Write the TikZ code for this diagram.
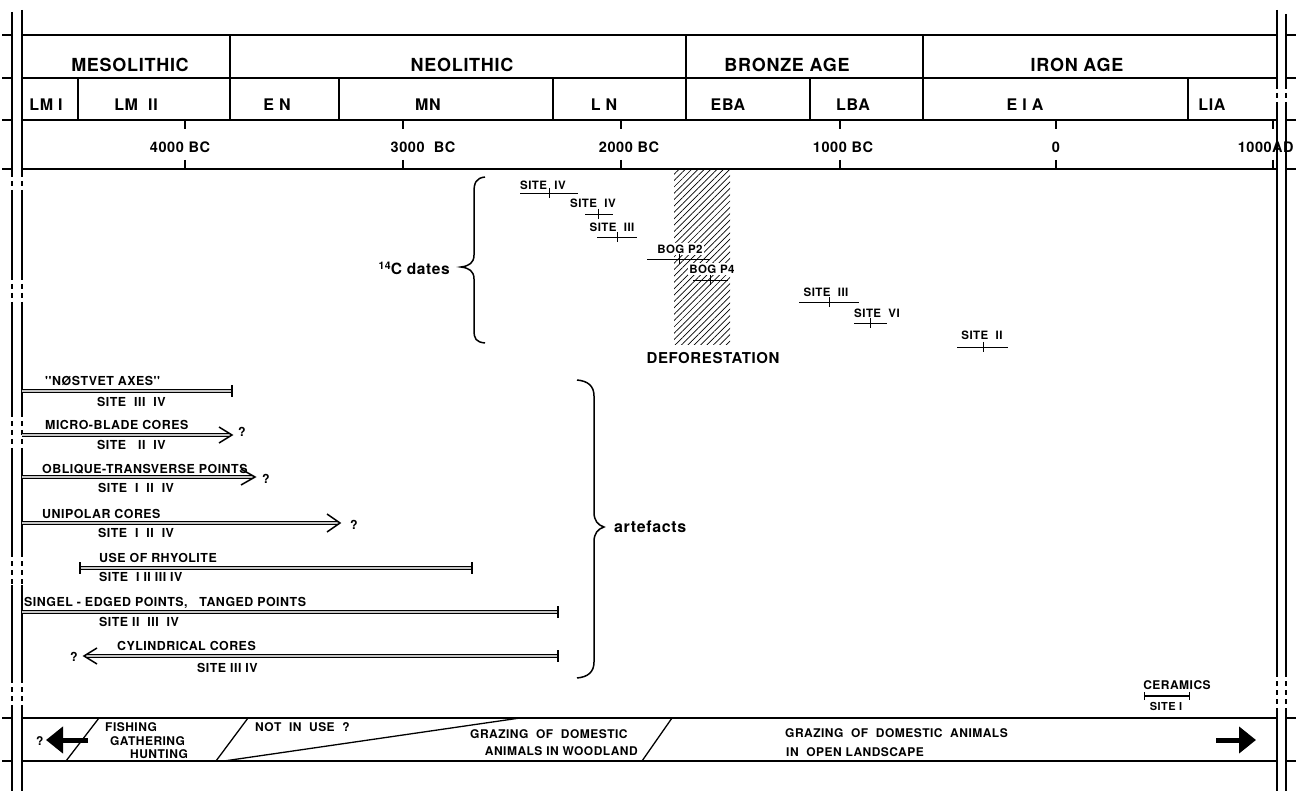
\documentclass[tikz,border=0pt]{standalone}
\usepackage{fontspec}
\newfontfamily\hv[LetterSpace=4]{TeX Gyre Heros}
\usetikzlibrary{arrows.meta,patterns.meta}
\begin{document}
\begin{tikzpicture}[x=1pt,y=-1pt,
  every node/.style={inner sep=0pt, font=\hv\bfseries},
  frm/.style={line width=1.3pt},
  edg/.style={line width=1.3pt},
  edgd/.style={line width=1.3pt, dash pattern=on 5pt off 4pt},
  hdrs/.style={font=\hv\bfseries\fontsize{18}{20}\selectfont},
  subs/.style={font=\hv\bfseries\fontsize{16}{18}\selectfont},
  yrs/.style={font=\hv\bfseries\fontsize{14.5}{16}\selectfont},
  sites/.style={font=\hv\bfseries\fontsize{11.5}{13}\selectfont, fill=white, inner sep=1.5pt},
  arts/.style={font=\hv\bfseries\fontsize{12.4}{13}\selectfont, anchor=west},
  bands/.style={font=\hv\bfseries\fontsize{12}{13}\selectfont, anchor=west},
  sbar/.style={line width=0.9pt},
  abar/.style={line width=0.9pt, double=gray!45, double distance=1.8pt},
  barbs/.style={line width=1.5pt, line join=miter},
  etick/.style={line width=1.6pt},
  bigarrow/.style={line width=5pt, -{Triangle[length=17pt,width=26pt]}},
  brc/.style={line width=1.5pt},
]
\useasboundingbox (0,0) rectangle (1302,791);

% ---------- outer edges ----------
\foreach \xx/\ys in {12/12, 22/10} {
  \draw[edg] (\xx,\ys) -- (\xx,172);
  \foreach \a/\b in {195/275, 305/412, 452/552, 585/678, 708/791}
    \draw[edg] (\xx,\a) -- (\xx,\b);
  \foreach \a/\b in {172/195, 275/305, 412/452, 552/585, 678/708}
    \draw[edgd] (\xx,\a) -- (\xx,\b);
}
\foreach \xx/\ys in {1277/10, 1286/14} {
  \draw[edg] (\xx,\ys) -- (\xx,84);
  \draw[edgd] (\xx,84) -- (\xx,104);
  \draw[edg] (\xx,104) -- (\xx,672);
  \draw[edgd] (\xx,672) -- (\xx,708);
  \draw[edg] (\xx,708) -- (\xx,791);
}
\foreach \y in {35,78,120,169,718,761} {
  \draw[edg] (2,\y) -- (12,\y);
  \draw[edg] (1286,\y) -- (1296,\y);
}

% ---------- header frame ----------
\foreach \y in {35,78,120,169,718,761}
  \draw[frm] (22,\y) -- (1277,\y);
\foreach \x in {230,686,923}
  \draw[frm] (\x,35) -- (\x,78);
\foreach \x in {78,230,339,553,686,810,923,1188}
  \draw[frm] (\x,78) -- (\x,120);
\foreach \x in {185,403,621,840,1056,1273} {
  \draw[frm] (\x,120) -- (\x,129);
  \draw[frm] (\x,160) -- (\x,169);
}

\node[hdrs] (meso) at (130,65) {MESOLITHIC};
\node[hdrs] (neo) at (462,65) {NEOLITHIC};
\node[hdrs] (bronze) at (787,65) {BRONZE AGE};
\node[hdrs] (iron) at (1077,65) {IRON AGE};

\node[subs] (lm1) at (46,105) {LM~I};
\node[subs] (lm2) at (136,105) {LM~~II};
\node[subs] (en) at (277,105) {E~N};
\node[subs] (mn) at (428,105) {MN};
\node[subs] (ln) at (604,105) {L~N};
\node[subs] (eba) at (728,105) {EBA};
\node[subs] (lba) at (853,105) {LBA};
\node[subs] (eia) at (1025,105) {E~I~A};
\node[subs] (lia) at (1212,105) {LIA};

\node[yrs] (y4) at (180,147) {4000~BC};
\node[yrs] (y3) at (423,147) {3000~~BC};
\node[yrs] (y2) at (629,147) {2000~BC};
\node[yrs] (y1) at (843,147) {1000~BC};
\node[yrs] (y0) at (1056,147) {0};
\node[yrs, anchor=east] (ya) at (1272,147) {1000};
\node[yrs, anchor=west] (yad) at (1272,147) {AD};

% ---------- deforestation ----------
\path[pattern={Lines[angle=45,distance=4.5pt,line width=0.7pt]}] (674,170) rectangle (730,345);
\node[font=\hv\bfseries\fontsize{15}{17}\selectfont] (defo) at (713,358) {DEFORESTATION};

% ---------- 14C dates ----------
\foreach \n/\lx/\ly/\xa/\xb/\yb/\xt/\txt in {
  1/543/185/520/578/193/549/SITE~~IV,
  2/593/203/585/613/214/598/SITE~~IV,
  3/612/227/597/637/237/617/SITE~~III,
  4/680/249/647/710/259/679/BOG~P2,
  5/712/269/693/728/280/710/BOG~P4,
  6/826/292/799/859/302/829/SITE~~III,
  7/877/313/854/887/323/870/SITE~~VI,
  8/982/335/957/1008/347/983/SITE~~II} {
  \node[sites] (sl\n) at (\lx,\ly) {\txt};
  \coordinate (sa\n) at (\xa,\yb);
  \coordinate (sb\n) at (\xb,\yb);
  \draw[sbar] (sa\n) -- (sb\n);
  \draw[sbar] (\xt,\yb-5) -- (\xt,\yb+5);
}

\coordinate (cbt) at (485,177);
\coordinate (cbb) at (485,343);
\draw[brc] (cbt) .. controls (476,178) and (474,183) .. (474,192) -- (474,255)
  .. controls (474,263) and (469,266) .. (461,267)
  .. controls (469,268) and (474,271) .. (474,279) -- (474,330)
  .. controls (474,339) and (476,342) .. (cbb);
\node[anchor=east, font=\hv\bfseries\fontsize{15.5}{17}\selectfont] (c14) at (450,268)
  {\raisebox{0.6ex}{\fontsize{10.5}{11}\selectfont 14}C~dates};

% ---------- artefacts ----------
\coordinate (abt) at (577,380);
\coordinate (abb) at (577,678);
\draw[brc] (abt) .. controls (588,381) and (594,386) .. (594,396) -- (594,512)
  .. controls (594,521) and (598,525) .. (604,527)
  .. controls (598,529) and (594,533) .. (594,542) -- (594,662)
  .. controls (594,672) and (588,677) .. (abb);
\node[anchor=west, font=\hv\bfseries\fontsize{16}{18}\selectfont] (artf) at (614,527) {artefacts};

% 1 Nostvet axes
\node[arts] (a1t) at (45,381) {''NØSTVET AXES''};
\coordinate (a1s) at (22,391); \coordinate (a1e) at (232,391);
\draw[abar] (a1s) -- (a1e);
\draw[etick] (232,385) -- (232,397);
\node[arts] (a1l) at (97,402) {SITE~~III~~IV};

% 2 micro-blade cores
\node[arts] (a2t) at (45,425) {MICRO-BLADE CORES};
\coordinate (a2s) at (22,435); \coordinate (a2e) at (232,435);
\draw[abar] (a2s) -- (230,435);
\draw[barbs] (a2e) ++(-13,-8) -- (a2e) -- ++(-13,8);
\node[arts] (a2q) at (238,432) {?};
\node[arts] (a2l) at (97,445) {SITE~~~II~~IV};

% 3 oblique-transverse points
\node[arts] (a3t) at (42,469) {OBLIQUE-TRANSVERSE POINTS};
\coordinate (a3s) at (22,477); \coordinate (a3e) at (255,477);
\draw[abar] (a3s) -- (253,477);
\draw[barbs] (a3e) ++(-14,-8) -- (a3e) -- ++(-14,8);
\node[arts] (a3q) at (262,479) {?};
\node[arts] (a3l) at (98,488) {SITE~~I~~II~~IV};

% 4 unipolar cores
\node[arts] (a4t) at (42,514) {UNIPOLAR CORES};
\coordinate (a4s) at (22,523); \coordinate (a4e) at (340,523);
\draw[abar] (a4s) -- (338,523);
\draw[barbs] (a4e) ++(-13,-9) -- (a4e) -- ++(-13,9);
\node[arts] (a4q) at (350,525) {?};
\node[arts] (a4l) at (98,533) {SITE~~I~~II~~IV};

% 5 use of rhyolite
\node[arts] (a5t) at (99,558) {USE OF RHYOLITE};
\coordinate (a5s) at (80,568); \coordinate (a5e) at (472,568);
\draw[abar] (a5s) -- (a5e);
\draw[etick] (80,562) -- (80,574);
\draw[etick] (472,562) -- (472,574);
\node[arts] (a5l) at (99,577) {SITE~~I~II~III~IV};

% 6 singel-edged points
\node[arts] (a6t) at (24,603) {SINGEL - EDGED POINTS,~~~TANGED POINTS};
\coordinate (a6s) at (22,612); \coordinate (a6e) at (558,612);
\draw[abar] (a6s) -- (a6e);
\draw[etick] (558,606) -- (558,618);
\node[arts] (a6l) at (99,622) {SITE~II~~III~~IV};

% 7 cylindrical cores
\node[arts] (a7t) at (117,646) {CYLINDRICAL CORES};
\coordinate (a7s) at (84,656); \coordinate (a7e) at (558,656);
\draw[abar] (86,656) -- (a7e);
\draw[barbs] (a7s) ++(13,-8) -- (a7s) -- ++(13,8);
\draw[etick] (558,650) -- (558,662);
\node[arts] (a7q) at (70,657) {?};
\node[arts] (a7l) at (197,668) {SITE III IV};

% ---------- ceramics ----------
\node[font=\hv\bfseries\fontsize{12}{13}\selectfont] (cer) at (1177,685) {CERAMICS};
\coordinate (cea) at (1144,696); \coordinate (ceb) at (1189,696);
\draw[line width=1.4pt] (cea) -- (ceb);
\draw[line width=1pt] (1144,692) -- (1144,700);
\draw[line width=1pt] (1189,692) -- (1189,700);
\node[font=\hv\bfseries\fontsize{11}{12}\selectfont] (cel) at (1166,706) {SITE I};

% ---------- bottom band ----------
\draw[frm] (66,761) -- (99,718);
\draw[frm] (216,761) -- (248,718);
\draw[frm] (224,761) -- (520,718);
\draw[frm] (642,761) -- (672,718);

\node[bands] (bq) at (36,741) {?};
\coordinate (la1) at (88,740); \coordinate (la2) at (46,740);
\draw[bigarrow] (la1) -- (la2);
\coordinate (ra1) at (1216,740); \coordinate (ra2) at (1256,740);
\draw[bigarrow] (ra1) -- (ra2);

\node[bands] (b1) at (105,727) {FISHING};
\node[bands] (b2) at (110,741) {GATHERING};
\node[bands] (b3) at (130,754) {HUNTING};
\node[bands] (b4) at (255,727) {NOT~~IN~~USE~~?};
\node[bands] (b5) at (470,734) {GRAZING~~OF~~DOMESTIC};
\node[bands, anchor=east] (b6) at (638,751) {ANIMALS IN WOODLAND};
\node[bands] (b7) at (785,733) {GRAZING~~OF~~DOMESTIC~~ANIMALS};
\node[bands] (b8) at (786,752) {IN~~OPEN LANDSCAPE};
\end{tikzpicture}
\end{document}
